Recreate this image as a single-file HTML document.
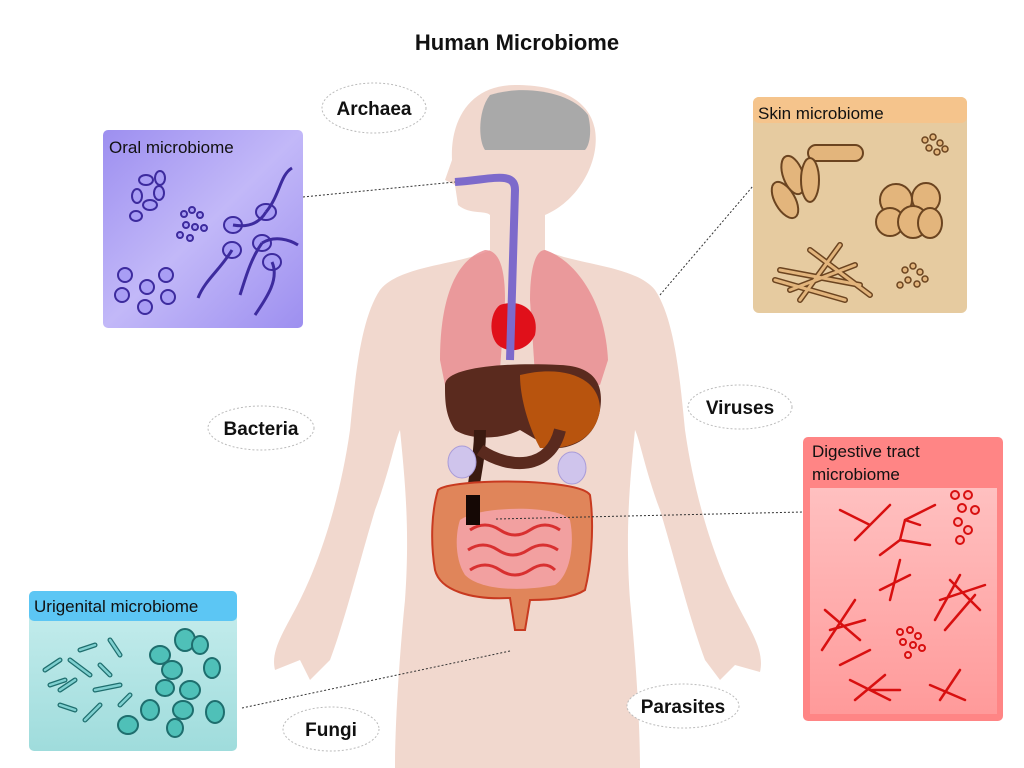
<!DOCTYPE html>
<html><head><meta charset="utf-8"><style>
html,body{margin:0;padding:0;background:#fff;width:1024px;height:768px;overflow:hidden;font-family:"Liberation Sans",sans-serif}
</style></head><body>
<svg width="1024" height="768" viewBox="0 0 1024 768" xmlns="http://www.w3.org/2000/svg" font-family="Liberation Sans, sans-serif">
<defs>
<linearGradient id="oral" x1="0" y1="0" x2="1" y2="1"><stop offset="0" stop-color="#9d8ff0"/><stop offset="0.5" stop-color="#c2b8f8"/><stop offset="1" stop-color="#9d8ff0"/></linearGradient>
<linearGradient id="uri" x1="0" y1="0" x2="0" y2="1"><stop offset="0" stop-color="#c8eeee"/><stop offset="1" stop-color="#9fdcdc"/></linearGradient>
<linearGradient id="dig" x1="0" y1="0" x2="0" y2="1"><stop offset="0" stop-color="#ffc0c0"/><stop offset="1" stop-color="#ff9a9a"/></linearGradient>
</defs>
<text x="517" y="50" font-size="22" font-weight="bold" text-anchor="middle" fill="#111">Human Microbiome</text>

<g fill="#f1d8ce">
<path d="M515 85 C470 85 450 120 452 160 L445 180 L455 185 L458 205 C470 215 485 210 490 215 L490 250 C460 265 400 265 380 290 C360 320 355 380 350 430 C340 500 320 560 300 600 C285 630 270 650 275 670 L300 660 L310 680 L330 660 C345 620 360 560 375 510 C390 470 395 440 400 430 C405 480 410 530 405 600 C400 650 395 720 395 768 L640 768 C640 720 635 650 630 600 C625 530 630 480 635 430 C640 440 645 470 660 510 C675 560 690 620 705 660 L720 680 L735 665 L760 672 C765 650 750 630 735 600 C715 560 695 500 685 430 C680 380 675 320 655 290 C635 265 575 265 545 250 L545 215 C580 200 600 160 595 130 C590 100 560 85 515 85Z"/>
</g>
<path d="M490 95 C520 85 570 90 588 115 C592 130 590 145 585 150 L485 150 C478 140 478 110 490 95Z" fill="#a9a9a9"/>
<path d="M485 250 C455 260 440 300 440 360 L445 385 L500 370 L505 300 C505 270 500 250 485 250Z" fill="#e88a8f" opacity="0.8"/>
<path d="M545 250 C575 260 605 300 608 360 L600 385 L535 375 L530 300 C530 270 535 250 545 250Z" fill="#e88a8f" opacity="0.8"/>
<path d="M500 305 C520 298 540 310 535 335 C528 350 510 355 498 345 C488 335 490 312 500 305Z" fill="#e0101a"/>
<path d="M455 182 C490 180 515 170 515 190 L510 360" stroke="#7d6acb" stroke-width="8" fill="none"/>
<path d="M445 385 C445 368 500 362 560 365 C590 366 605 380 600 410 C595 440 570 450 550 448 L520 430 C500 440 470 440 455 430 C445 415 445 400 445 385Z" fill="#5a2a1e"/>
<path d="M520 375 C560 365 600 375 600 410 C595 440 570 450 540 448 C530 430 520 400 520 375Z" fill="#b8540e"/>
<path d="M480 430 C480 470 470 480 470 540 L468 560" stroke="#3a1a10" stroke-width="12" fill="none"/>
<path d="M480 450 C510 470 550 470 560 430" stroke="#5a2a1e" stroke-width="12" fill="none"/>
<ellipse cx="462" cy="462" rx="14" ry="16" fill="#cfc4ec" stroke="#a99bd8"/>
<ellipse cx="572" cy="468" rx="14" ry="16" fill="#cfc4ec" stroke="#a99bd8"/>
<path d="M438 490 C450 478 580 478 590 495 C595 530 590 570 585 590 C570 600 540 600 530 600 L525 630 L515 630 L510 598 C470 600 440 590 435 570 C430 540 432 510 438 490Z" fill="#e0855a" stroke="#c83a20" stroke-width="2"/>
<path d="M460 520 C480 505 560 505 570 520 C575 545 570 575 555 585 C520 592 480 590 465 575 C455 560 455 535 460 520Z" fill="#f2a0a0"/>
<path d="M470 530 q15-10 30 0 t30 0 t30 0 M468 550 q15-10 30 0 t30 0 t30 0 M470 570 q15-10 30 0 t30 0 t25 0" stroke="#d83030" stroke-width="3" fill="none"/>
<rect x="466" y="495" width="14" height="30" fill="#150805"/>

<g stroke="#333" stroke-dasharray="2,2" stroke-width="1">
<line x1="303" y1="197" x2="455" y2="182"/>
<line x1="660" y1="295" x2="753" y2="186"/>
<line x1="496" y1="519" x2="803" y2="512"/>
<line x1="242" y1="708" x2="510" y2="651"/>
</g>

<rect x="103" y="130" width="200" height="198" rx="5" fill="url(#oral)"/>
<text x="109" y="153" font-size="17" fill="#111">Oral microbiome</text>
<g fill="#a99ef5" stroke="#3d2b9e" stroke-width="2">
<ellipse cx="146" cy="180" rx="7" ry="5"/><ellipse cx="160" cy="178" rx="5" ry="7"/><ellipse cx="137" cy="196" rx="5" ry="7"/><ellipse cx="150" cy="205" rx="7" ry="5"/><ellipse cx="159" cy="193" rx="5" ry="7"/><ellipse cx="136" cy="216" rx="6" ry="5"/>
<circle cx="184" cy="214" r="3"/><circle cx="192" cy="210" r="3"/><circle cx="200" cy="215" r="3"/><circle cx="186" cy="225" r="3"/><circle cx="195" cy="227" r="3"/><circle cx="180" cy="235" r="3"/><circle cx="190" cy="238" r="3"/><circle cx="204" cy="228" r="3"/>
<circle cx="125" cy="275" r="7"/><circle cx="147" cy="287" r="7"/><circle cx="166" cy="275" r="7"/><circle cx="122" cy="295" r="7"/><circle cx="145" cy="307" r="7"/><circle cx="168" cy="297" r="7"/>
<ellipse cx="266" cy="212" rx="10" ry="8"/><ellipse cx="233" cy="225" rx="9" ry="8"/><ellipse cx="232" cy="250" rx="9" ry="8"/><ellipse cx="262" cy="243" rx="9" ry="8"/><ellipse cx="272" cy="262" rx="9" ry="8"/>
</g>
<g stroke="#3d2b9e" stroke-width="3" fill="none">
<path d="M266 212 C280 195 280 175 292 168"/><path d="M233 225 C250 228 260 222 266 212"/><path d="M232 250 C220 270 205 280 198 298"/><path d="M262 243 C250 260 245 280 240 295"/><path d="M272 262 C280 280 265 300 255 315"/><path d="M262 243 C275 235 290 240 298 245"/>
</g>

<rect x="753" y="97" width="214" height="216" rx="6" fill="#e6cba0"/>
<rect x="753" y="97" width="214" height="26" rx="6" fill="#f5c48c"/>
<text x="758" y="119" font-size="17" fill="#111">Skin microbiome</text>
<g fill="#e3b57c" stroke="#6b4420" stroke-width="2">
<rect x="808" y="145" width="55" height="16" rx="8"/><ellipse cx="785" cy="200" rx="10" ry="20" transform="rotate(-30 785 200)"/><ellipse cx="793" cy="175" rx="10" ry="20" transform="rotate(-20 793 175)"/><ellipse cx="810" cy="180" rx="9" ry="22"/>
<ellipse cx="896" cy="200" rx="16" ry="16"/><ellipse cx="926" cy="198" rx="14" ry="15"/><ellipse cx="890" cy="222" rx="14" ry="14"/><ellipse cx="913" cy="222" rx="15" ry="16"/><ellipse cx="930" cy="223" rx="12" ry="15"/>
</g>
<g stroke="#6b4420" stroke-width="6" stroke-linecap="round"><path d="M780 270 L860 285 M790 290 L855 265 M810 250 L870 295 M800 300 L840 245 M775 280 L845 300"/></g>
<g stroke="#e3b57c" stroke-width="3" stroke-linecap="round"><path d="M780 270 L860 285 M790 290 L855 265 M810 250 L870 295 M800 300 L840 245 M775 280 L845 300"/></g>
<g fill="#e3b57c" stroke="#6b4420" stroke-width="1.5"><circle cx="925" cy="140" r="3"/><circle cx="933" cy="137" r="3"/><circle cx="940" cy="143" r="3"/><circle cx="929" cy="148" r="3"/><circle cx="937" cy="152" r="3"/><circle cx="945" cy="149" r="3"/>
<circle cx="905" cy="270" r="3"/><circle cx="913" cy="266" r="3"/><circle cx="920" cy="272" r="3"/><circle cx="908" cy="280" r="3"/><circle cx="917" cy="284" r="3"/><circle cx="925" cy="279" r="3"/><circle cx="900" cy="285" r="3"/></g>

<rect x="803" y="437" width="200" height="284" rx="5" fill="#ff8585"/>
<rect x="810" y="488" width="187" height="226" fill="url(#dig)"/>
<text x="812" y="457" font-size="17" fill="#111">Digestive tract</text>
<text x="812" y="480" font-size="17" fill="#111">microbiome</text>
<g stroke="#d81010" stroke-width="2.5" fill="none" stroke-linecap="round">
<path d="M840 510 L870 525 L890 505 M855 540 L870 525 M880 555 L900 540 L930 545 M900 540 L905 520 L935 505 M905 520 L920 525"/>
<path d="M880 590 L910 575 M890 600 L900 560 M950 580 L980 610 M940 600 L985 585 M935 620 L960 575 M945 630 L975 595"/>
<path d="M825 610 L860 640 M830 630 L865 620 M822 650 L855 600 M840 665 L870 650"/>
<path d="M850 680 L890 700 M855 700 L885 675 M870 690 L900 690 M930 685 L965 700 M940 700 L960 670"/>
</g>
<g fill="#ffb0b0" stroke="#d81010" stroke-width="2"><circle cx="955" cy="495" r="4"/><circle cx="968" cy="495" r="4"/><circle cx="962" cy="508" r="4"/><circle cx="975" cy="510" r="4"/><circle cx="958" cy="522" r="4"/><circle cx="968" cy="530" r="4"/><circle cx="960" cy="540" r="4"/>
<circle cx="900" cy="632" r="3"/><circle cx="910" cy="630" r="3"/><circle cx="918" cy="636" r="3"/><circle cx="903" cy="642" r="3"/><circle cx="913" cy="645" r="3"/><circle cx="922" cy="648" r="3"/><circle cx="908" cy="655" r="3"/></g>

<rect x="29" y="591" width="208" height="160" rx="5" fill="url(#uri)"/>
<rect x="29" y="591" width="208" height="30" rx="5" fill="#5cc6f4"/>
<text x="34" y="612" font-size="17" fill="#111">Urigenital microbiome</text>
<g stroke="#1e6e6e" stroke-width="5" stroke-linecap="round"><path d="M45 670 L60 660 M70 660 L90 675 M60 690 L75 680 M95 690 L120 685 M110 640 L120 655 M80 650 L95 645 M50 685 L65 680 M100 665 L110 675 M85 720 L100 705 M120 705 L130 695 M60 705 L75 710"/></g>
<g stroke="#7fd0d0" stroke-width="2.5" stroke-linecap="round"><path d="M45 670 L60 660 M70 660 L90 675 M60 690 L75 680 M95 690 L120 685 M110 640 L120 655 M80 650 L95 645 M50 685 L65 680 M100 665 L110 675 M85 720 L100 705 M120 705 L130 695 M60 705 L75 710"/></g>
<g fill="#4fc0b8" stroke="#1e6e6e" stroke-width="2">
<ellipse cx="160" cy="655" rx="10" ry="9"/><ellipse cx="185" cy="640" rx="10" ry="11"/><ellipse cx="200" cy="645" rx="8" ry="9"/><ellipse cx="172" cy="670" rx="10" ry="9"/><ellipse cx="212" cy="668" rx="8" ry="10"/><ellipse cx="165" cy="688" rx="9" ry="8"/><ellipse cx="190" cy="690" rx="10" ry="9"/><ellipse cx="150" cy="710" rx="9" ry="10"/><ellipse cx="183" cy="710" rx="10" ry="9"/><ellipse cx="215" cy="712" rx="9" ry="11"/><ellipse cx="128" cy="725" rx="10" ry="9"/><ellipse cx="175" cy="728" rx="8" ry="9"/>
</g>

<g fill="#fff" stroke="#bbb" stroke-dasharray="2,2">
<ellipse cx="374" cy="108" rx="52" ry="25"/>
<ellipse cx="261" cy="428" rx="53" ry="22"/>
<ellipse cx="740" cy="407" rx="52" ry="22"/>
<ellipse cx="683" cy="706" rx="56" ry="22"/>
<ellipse cx="331" cy="729" rx="48" ry="22"/>
</g>
<g font-size="19" font-weight="bold" text-anchor="middle" fill="#111">
<text x="374" y="115">Archaea</text>
<text x="261" y="435">Bacteria</text>
<text x="740" y="414">Viruses</text>
<text x="683" y="713">Parasites</text>
<text x="331" y="736">Fungi</text>
</g>
</svg>
</body></html>
